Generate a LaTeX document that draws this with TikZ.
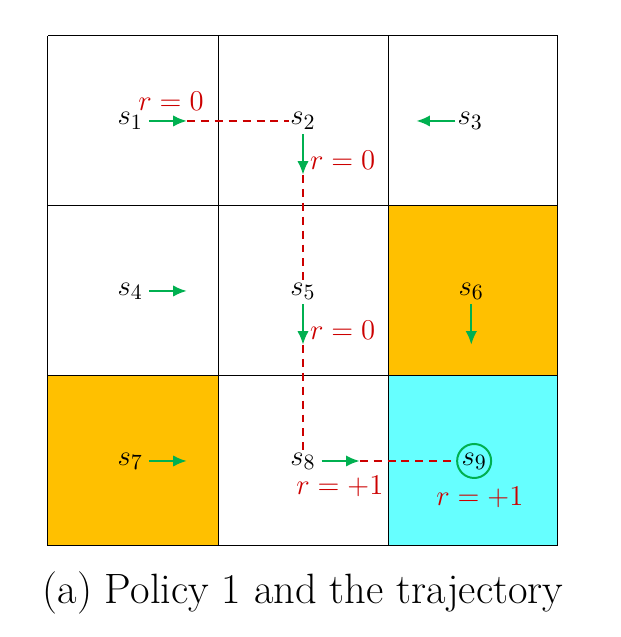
\documentclass[tikz,border=0pt]{standalone}
\usepackage{tikz}
\usetikzlibrary{arrows.meta,positioning,calc}
\definecolor{actgreen}{HTML}{00B050}
\definecolor{forbid}{HTML}{FFC000}
\definecolor{goal}{HTML}{66FFFF}
\definecolor{rewred}{HTML}{CC0000}

\begin{document}
\begin{tikzpicture}[font=\fontsize{13.3}{16}\selectfont,
 state/.style={inner sep=0.5pt,font=\fontsize{15.2}{18}\selectfont},
 act/.style={-{Latex[length=2.4mm,width=2mm]},actgreen,line width=1.1pt},
 traj/.style={rewred,line width=0.8pt,dash pattern=on 4pt off 3pt},
 rew/.style={text=rewred,inner sep=0.5pt}]
\useasboundingbox (-0.847,-1.606) rectangle (10.11,9.635);
% grid world
\fill[forbid] (6,3) rectangle (9,6);
\fill[forbid] (0,0) rectangle (3,3);
\fill[goal] (6,0) rectangle (9,3);
\draw[line width=0.5pt,step=3] (0,0) grid (9,9);
% states
\foreach \i/\x/\y in {1/1.45/7.5,2/4.5/7.5,3/7.45/7.5,4/1.45/4.5,5/4.5/4.5,6/7.47/4.5,7/1.45/1.5,8/4.5/1.5}
  \node[state] (s\i) at (\x,\y) {$s_{\i}$};
\node[state,circle,draw=actgreen,line width=1pt,minimum size=6mm,inner sep=0pt] (s9) at (7.52,1.5) {$s_9$};
% policy 1
\foreach \i in {1,4,7,8}
  \draw[act] ($(s\i)+(0.33,0)$) -- ++(0.67,0) coordinate (a\i);
\foreach \i in {2,5,6}
  \draw[act] ($(s\i)+(0,-0.23)$) -- ++(0,-0.72) coordinate (a\i);
\draw[act] ($(s3)+(-0.26,0)$) -- ++(-0.69,0) coordinate (a3);
% trajectory
\draw[traj] (a1) -- (s2);
\draw[traj] (a2) -- (s5);
\draw[traj] (a5) -- (s8);
\draw[traj] (a8) -- (s9);
\node[rew] (r1) at (2.17,7.84) {$r=0$};
\node[rew] (r2) at (5.2,6.81) {$r=0$};
\node[rew] (r5) at (5.2,3.81) {$r=0$};
\node[rew] (r8) at (5.15,1.05) {$r=+1$};
\node[rew] (r9) at (7.62,0.85) {$r=+1$};
\node[font=\fontsize{21.3}{25}\selectfont] (cap) at (4.5,-0.83) {(a) Policy 1 and the trajectory};
\end{tikzpicture}
\end{document}
